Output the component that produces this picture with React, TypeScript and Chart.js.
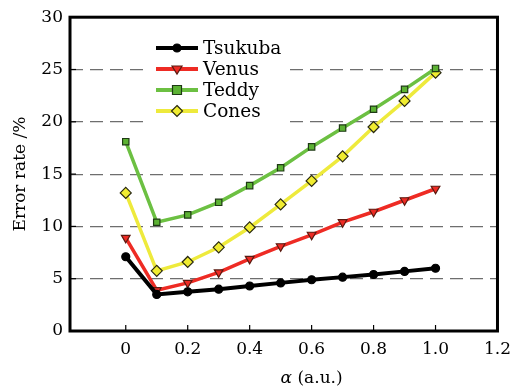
import React, { useEffect, useRef } from "react";
import { Chart, registerables } from "chart.js";

Chart.register(...registerables);

const alpha = [0, 0.1, 0.2, 0.3, 0.4, 0.5, 0.6, 0.7, 0.8, 0.9, 1.0];
const tsukuba = [7.1, 3.5, 3.75, 4.0, 4.3, 4.6, 4.9, 5.15, 5.4, 5.7, 6.0];
const venus = [8.9, 3.9, 4.6, 5.6, 6.9, 8.1, 9.2, 10.4, 11.4, 12.5, 13.6];
const teddy = [18.1, 10.4, 11.1, 12.3, 13.9, 15.6, 17.6, 19.4, 21.2, 23.1, 25.1];
const cones = [13.2, 5.75, 6.6, 8.0, 9.9, 12.1, 14.35, 16.7, 19.5, 22.0, 24.7];

const seriesNames = ["Tsukuba", "Venus", "Teddy", "Cones"];
const xTickValues = [0, 0.2, 0.4, 0.6, 0.8, 1.0, 1.2];
const xTickLabels = ["0", "0.2", "0.4", "0.6", "0.8", "1.0", "1.2"];
const yTickValues = [0, 5, 10, 15, 20, 25, 30];

const FONT = "'DejaVu Serif', 'Liberation Serif', serif";

function drawMarker(ctx: CanvasRenderingContext2D, style: string, r: number, x: number, y: number) {
  ctx.beginPath();
  if (style === "circle") {
    ctx.arc(x, y, r, 0, Math.PI * 2);
  } else if (style === "triangle") {
    ctx.moveTo(x - r, y - r * 0.6);
    ctx.lineTo(x + r, y - r * 0.6);
    ctx.lineTo(x, y + r);
    ctx.closePath();
  } else if (style === "rect") {
    ctx.rect(x - r, y - r, 2 * r, 2 * r);
  } else if (style === "rectRot") {
    ctx.moveTo(x, y - r);
    ctx.lineTo(x + r, y);
    ctx.lineTo(x, y + r);
    ctx.lineTo(x - r, y);
    ctx.closePath();
  }
  ctx.fill();
  ctx.stroke();
}

export default function App() {
  const ref = useRef<HTMLCanvasElement>(null);

  useEffect(() => {
    if (!ref.current) return;
    const mk = (arr: number[]) => arr.map((v, i) => ({ x: alpha[i], y: v }));
    const styles = [
      { color: "#000000", point: "circle", fill: "#000000", border: "#000000", radius: 4, lw: 4, rot: 0 },
      { color: "#ee2b24", point: "triangle", fill: "#ee2b24", border: "#5a1a10", radius: 5, lw: 3.5, rot: 180 },
      { color: "#6cc042", point: "rect", fill: "#5cb233", border: "#1e3a14", radius: 4.5, lw: 3.5, rot: 0 },
      { color: "#eeea3c", point: "rectRot", fill: "#f0ec30", border: "#2a2a10", radius: 5.5, lw: 3.5, rot: 0 },
    ];
    const data = [tsukuba, venus, teddy, cones];

    const framePlugin = {
      id: "frame",
      afterDraw(chart: any) {
        const { ctx, chartArea } = chart;
        const xs = chart.scales.x;
        const ys = chart.scales.y;
        const { left, right, top, bottom } = chartArea;
        ctx.save();
        ctx.strokeStyle = "#000";
        ctx.lineWidth = 1.2;
        xTickValues.forEach((v) => {
          const px = xs.getPixelForValue(v);
          ctx.beginPath();
          ctx.moveTo(px, bottom);
          ctx.lineTo(px, bottom - 6);
          ctx.stroke();
        });
        yTickValues.forEach((v) => {
          const py = ys.getPixelForValue(v);
          ctx.beginPath();
          ctx.moveTo(left, py);
          ctx.lineTo(left + 6, py);
          ctx.stroke();
        });
        ctx.lineWidth = 3;
        ctx.strokeRect(left, top, right - left, bottom - top);

        // legend background box (hides gridlines)
        ctx.fillStyle = "#ffffff";
        ctx.fillRect(143, 30, 145, 96);

        const lx0 = 156, lx1 = 198, tx = 203;
        const rows = [48, 69, 90, 111];
        chart.data.datasets.forEach((ds: any, i: number) => {
          const y = rows[i];
          ctx.strokeStyle = ds.borderColor;
          ctx.lineWidth = 4;
          ctx.beginPath();
          ctx.moveTo(lx0, y);
          ctx.lineTo(lx1, y);
          ctx.stroke();
          ctx.fillStyle = ds.pointBackgroundColor;
          ctx.strokeStyle = ds.pointBorderColor;
          ctx.lineWidth = ds.pointBorderWidth;
          drawMarker(ctx, styles[i].point, ds.pointRadius, (lx0 + lx1) / 2, y);
          ctx.fillStyle = "#000";
          ctx.font = `18.5px ${FONT}`;
          ctx.textAlign = "left";
          ctx.textBaseline = "middle";
          ctx.fillText(ds.label, tx, y + 1);
        });

        const cx = xs.getPixelForValue(0.6);
        const ty = 379;
        ctx.fillStyle = "#000";
        ctx.textBaseline = "middle";
        ctx.font = `italic 17px ${FONT}`;
        const a = "α";
        const aw = ctx.measureText(a).width;
        ctx.font = `17px ${FONT}`;
        const rest = " (a.u.)";
        const rw = ctx.measureText(rest).width;
        const start = cx - (aw + rw) / 2;
        ctx.textAlign = "left";
        ctx.font = `italic 17px ${FONT}`;
        ctx.fillText(a, start, ty);
        ctx.font = `17px ${FONT}`;
        ctx.fillText(rest, start + aw, ty);
        ctx.restore();
      },
    };

    const chart = new Chart(ref.current, {
      type: "line",
      data: {
        datasets: data.map((d, i) => ({
          label: seriesNames[i],
          data: mk(d),
          borderColor: styles[i].color,
          backgroundColor: styles[i].color,
          borderWidth: styles[i].lw,
          pointStyle: styles[i].point as any,
          pointRadius: styles[i].radius,
          pointRotation: styles[i].rot,
          pointBackgroundColor: styles[i].fill,
          pointBorderColor: styles[i].border,
          pointBorderWidth: 1.2,
          tension: 0,
          fill: false,
        })),
      },
      options: {
        responsive: false,
        animation: false,
        layout: { padding: { top: 16, right: 12, left: 0, bottom: 0 } },
        plugins: {
          legend: { display: false },
          tooltip: { enabled: false },
        },
        scales: {
          x: {
            type: "linear",
            min: -0.18,
            max: 1.2,
            afterBuildTicks: (s: any) => {
              s.ticks = xTickValues.map((v) => ({ value: v }));
            },
            afterFit: (s: any) => {
              s.height = 55;
            },
            grid: { display: false, drawTicks: false },
            border: { display: false },
            ticks: {
              color: "#000",
              font: { family: FONT, size: 17 },
              padding: 8,
              maxRotation: 0,
              callback: (v: any) => {
                const idx = xTickValues.findIndex((t) => Math.abs(t - Number(v)) < 1e-6);
                return idx >= 0 ? xTickLabels[idx] : "";
              },
            },
          },
          y: {
            min: 0,
            max: 30,
            afterBuildTicks: (s: any) => {
              s.ticks = yTickValues.map((v) => ({ value: v }));
            },
            afterFit: (s: any) => {
              s.width = 70;
            },
            grid: {
              drawTicks: false,
              color: (c: any) => (c.tick && (c.tick.value === 0 || c.tick.value === 30) ? "rgba(0,0,0,0)" : "#6e6e6e"),
              lineWidth: 1.2,
            },
            border: { display: false, dash: [13, 7] },
            ticks: {
              color: "#000",
              font: { family: FONT, size: 17 },
              padding: 7,
            },
            title: {
              display: true,
              text: "Error rate /%",
              color: "#000",
              font: { family: FONT, size: 17 },
              padding: { top: 10, bottom: 2 },
            },
          },
        },
      },
      plugins: [framePlugin],
    });
    return () => chart.destroy();
  }, []);

  return (
    <div style={{ position: "fixed", left: 0, top: 0, width: 519, height: 386, background: "#fff" }}>
      <canvas ref={ref} width={519} height={386} />
    </div>
  );
}
